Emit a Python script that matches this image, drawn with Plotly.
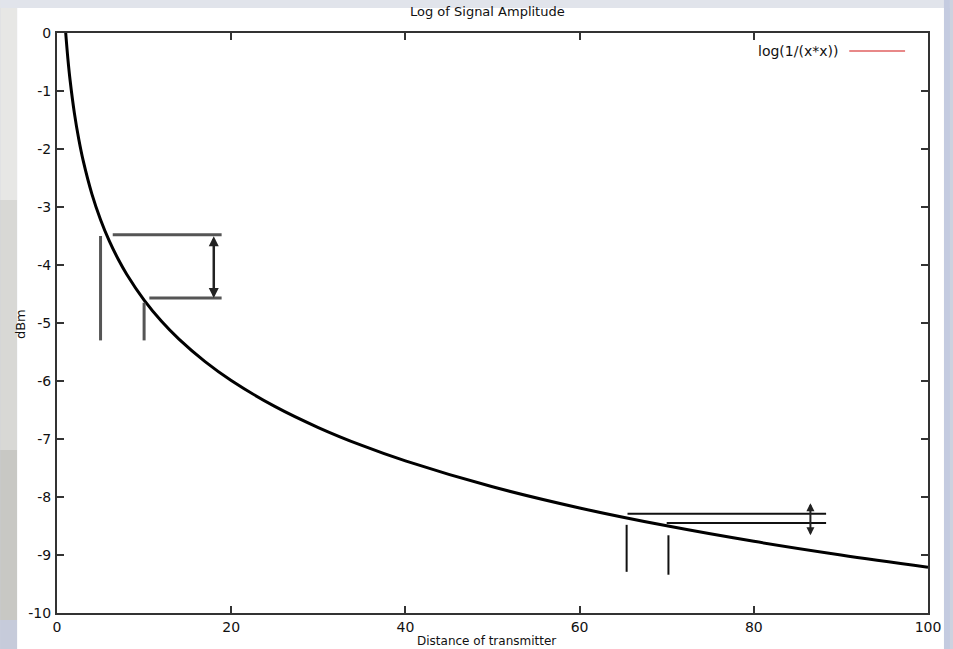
import plotly.graph_objects as go

# Curve samples of log(1/(x*x))
distance = [1, 1.25, 1.5, 2, 2.5, 3, 4, 5, 6, 7, 8, 10, 12, 14, 17, 20, 25, 30, 35, 40,
            50, 60, 70, 80, 90, 100]
amplitude = [0.0, -0.446, -0.811, -1.386, -1.833, -2.197, -2.773, -3.219, -3.584, -3.892,
             -4.159, -4.605, -4.970, -5.278, -5.666, -5.991, -6.438, -6.802, -7.111, -7.378,
             -7.824, -8.189, -8.497, -8.764, -8.999, -9.210]

x_ticks = [0, 20, 40, 60, 80, 100]
y_ticks = [0, -1, -2, -3, -4, -5, -6, -7, -8, -9, -10]

# Annotation segments (data coordinates): x0, y0, x1, y1
near_segments = [(5, -3.5, 5, -5.3), (10, -4.65, 10, -5.3),
                 (6.4, -3.48, 18.9, -3.48), (10.6, -4.57, 18.9, -4.57)]
far_segments = [(65.4, -8.48, 65.4, -9.29), (70.2, -8.66, 70.2, -9.34),
                (65.5, -8.29, 88.3, -8.29), (70.0, -8.45, 88.3, -8.45)]
near_arrow = (18.0, -3.48, -4.57)
far_arrow = (86.5, -8.08, -8.66)

L, R, T, B = 57, 22, 33, 36
W, H = 953, 649
pw, ph = W - L - R, H - T - B


def px(x):
    return (x - L) / pw


def py(y):
    return (H - B - y) / ph


fig = go.Figure()
fig.add_trace(go.Scatter(x=distance, y=amplitude, mode="lines",
                         line=dict(color="black", width=3, shape="spline"),
                         showlegend=False))

shapes = []


def band(x0, x1, y0, y1, color):
    shapes.append(dict(type="rect", xref="paper", yref="paper", x0=px(x0), x1=px(x1),
                       y0=py(y1), y1=py(y0), fillcolor=color, line_width=0, layer="below"))


# background framing (pixel boxes)
band(0, 17, 0, 200, "#e7e7e5")
band(0, 17, 200, 450, "#d8d8d5")
band(0, 17, 450, 620, "#c8c8c4")
band(0, 17, 620, 649, "#c6cbda")
band(0, 953, 0, 8, "#e1e4eb")
band(947, 953, 0, 649, "#c4cbe0")
band(17, 947, 8, 649, "white")

for (x0, y0, x1, y1) in near_segments:
    shapes.append(dict(type="line", xref="x", yref="y", x0=x0, y0=y0, x1=x1, y1=y1,
                       line=dict(color="#555555", width=3)))
for (x0, y0, x1, y1) in far_segments:
    shapes.append(dict(type="line", xref="x", yref="y", x0=x0, y0=y0, x1=x1, y1=y1,
                       line=dict(color="#111111", width=2)))

# legend sample line
shapes.append(dict(type="line", xref="paper", yref="paper", x0=px(852), x1=px(908), y0=py(51), y1=py(51),
                   line=dict(color="#e06060", width=1.5)))

annotations = []
for (ax_x, ya, yb), w in ((near_arrow, 2.5), (far_arrow, 2)):
    annotations.append(dict(x=ax_x, y=yb, ax=ax_x, ay=ya, xref="x", yref="y", axref="x", ayref="y",
                            showarrow=True, arrowhead=2, arrowsize=0.8, arrowside="end+start",
                            arrowwidth=w, arrowcolor="#222222", text=""))

font = "DejaVu Sans, Verdana, sans-serif"
annotations.append(dict(text="Log of Signal Amplitude", xref="paper", yref="paper", x=px(489), y=py(12),
                        xanchor="center", yanchor="middle",
                        showarrow=False, font=dict(family=font, size=13, color="#111")))
annotations.append(dict(text="Distance of transmitter", xref="paper", yref="paper", x=px(488), y=py(641),
                        xanchor="center", yanchor="middle",
                        showarrow=False, font=dict(family=font, size=12, color="#111")))
annotations.append(dict(text="dBm", xref="paper", yref="paper", x=px(21), y=py(324), textangle=-90,
                        xanchor="center", yanchor="middle",
                        showarrow=False, font=dict(family=font, size=13, color="#111")))
annotations.append(dict(text="log(1/(x*x))", xref="paper", yref="paper", x=px(843), y=py(51),
                        xanchor="right", yanchor="middle",
                        showarrow=False, font=dict(family=font, size=14, color="#111")))

axis_common = dict(showline=True, linecolor="#333333", linewidth=2, mirror="ticks", ticks="inside",
                   ticklen=7, tickwidth=1.5, tickcolor="#333333", showgrid=False, zeroline=False,
                   tickfont=dict(family=font, size=14, color="#111"))

fig.update_layout(
    width=W, height=H,
    margin=dict(l=L, r=R, t=T, b=B),
    paper_bgcolor="#cdd2df",
    plot_bgcolor="white",
    shapes=shapes,
    annotations=annotations,
    xaxis=dict(range=[0, 100], tickvals=x_ticks, ticktext=[str(v) for v in x_ticks],
               ticklabelstandoff=0, **axis_common),
    yaxis=dict(range=[-10, 0], tickvals=y_ticks, ticktext=[str(v) for v in y_ticks],
               ticklabelstandoff=1, **axis_common),
)

fig.write_html("out.html", config={"displayModeBar": False},
               post_script="document.body.style.margin='0';document.body.style.padding='0';"
                           "document.body.style.overflow='hidden';")
